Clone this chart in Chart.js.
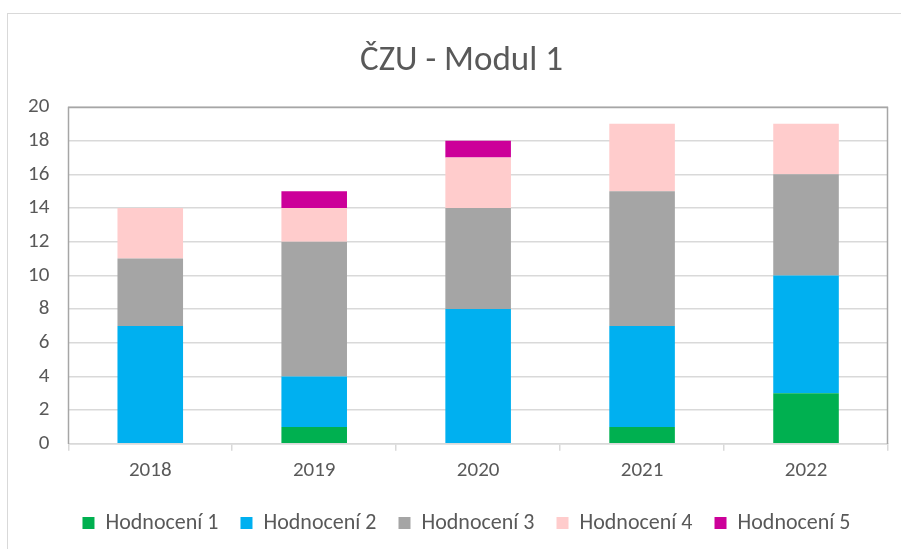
<!DOCTYPE html>
<html>
<head>
<meta charset="utf-8">
<script src="https://cdn.jsdelivr.net/npm/chart.js@4/dist/chart.umd.min.js"></script>
<style>
html,body{margin:0;padding:0;background:#fff;}
#wrap{position:relative;width:901px;height:549px;}
</style>
</head>
<body>
<div id="wrap"><canvas id="c" width="901" height="549"></canvas></div>
<script>
const categories = ['2018', '2019', '2020', '2021', '2022'];
const hodnoceni1 = [0, 1, 0, 1, 3];
const hodnoceni2 = [7, 3, 8, 6, 7];
const hodnoceni3 = [4, 8, 6, 8, 6];
const hodnoceni4 = [3, 2, 3, 4, 3];
const hodnoceni5 = [0, 1, 1, 0, 0];
const seriesNames = ['Hodnocení 1', 'Hodnocení 2', 'Hodnocení 3', 'Hodnocení 4', 'Hodnocení 5'];
const seriesColors = ['#00b050', '#00b0f0', '#a5a5a5', '#ffcccc', '#cc0099'];
const titleText = 'ČZU - Modul 1';

const FONT = 'Carlito, Lato, "Open Sans", sans-serif';
const TXT = '#595959';

const frame = {
  id: 'frame',
  afterLayout(chart) {
    // center title and legend like the original (offset to the right)
    if (chart.titleBlock) { chart.titleBlock.left += 13; chart.titleBlock.right += 13; }
    if (chart.legend) { chart.legend.left += 18; chart.legend.right += 18; }
  },
  beforeDraw(chart) {
    const ctx = chart.ctx;
    ctx.save();
    ctx.strokeStyle = '#d9d9d9';
    ctx.lineWidth = 1;
    ctx.strokeRect(7.5, 13.5, 900, 560);
    ctx.restore();
  },
  afterDatasetsDraw(chart) {
    const a = chart.chartArea;
    const ctx = chart.ctx;
    ctx.save();
    ctx.strokeStyle = '#a6a6a6';
    ctx.lineWidth = 1.5;
    ctx.beginPath();
    ctx.moveTo(Math.round(a.left) + 0.5, Math.round(a.bottom));
    ctx.lineTo(Math.round(a.left) + 0.5, Math.round(a.top) + 0.5);
    ctx.lineTo(Math.round(a.right) - 0.5, Math.round(a.top) + 0.5);
    ctx.lineTo(Math.round(a.right) - 0.5, Math.round(a.bottom));
    ctx.stroke();
    ctx.restore();
  }
};

const data = [hodnoceni1, hodnoceni2, hodnoceni3, hodnoceni4, hodnoceni5];

new Chart(document.getElementById('c'), {
  type: 'bar',
  data: {
    labels: categories,
    datasets: data.map((d, i) => ({
      label: seriesNames[i],
      data: d,
      backgroundColor: seriesColors[i],
      borderWidth: 0,
      categoryPercentage: 1.0,
      barPercentage: 0.4
    }))
  },
  options: {
    responsive: false,
    animation: false,
    devicePixelRatio: 1,
    layout: { padding: { left: 9, right: 13, top: 17, bottom: 5 } },
    plugins: {
      title: {
        display: true,
        text: titleText,
        color: TXT,
        font: { family: FONT, size: 35, weight: 'normal' },
        padding: { top: 23, bottom: 25 }
      },
      legend: {
        position: 'bottom',
        labels: {
          color: TXT,
          font: { family: FONT, size: 22 },
          boxWidth: 12,
          boxHeight: 12,
          padding: 22
        }
      },
      tooltip: { enabled: false }
    },
    scales: {
      x: {
        stacked: true,
        grid: {
          display: true,
          drawOnChartArea: false,
          drawTicks: true,
          tickLength: 7,
          color: '#d9d9d9',
          lineWidth: 1.5
        },
        border: { display: true, color: '#d9d9d9', width: 1.5 },
        ticks: { color: TXT, font: { family: FONT, size: 21 }, padding: 7 }
      },
      y: {
        stacked: true,
        min: 0,
        max: 20,
        ticks: { stepSize: 2, color: TXT, font: { family: FONT, size: 21 }, padding: 19 },
        grid: { color: '#d9d9d9', lineWidth: 1.5, drawTicks: false },
        border: { display: false }
      }
    }
  },
  plugins: [frame]
});
</script>
</body>
</html>
